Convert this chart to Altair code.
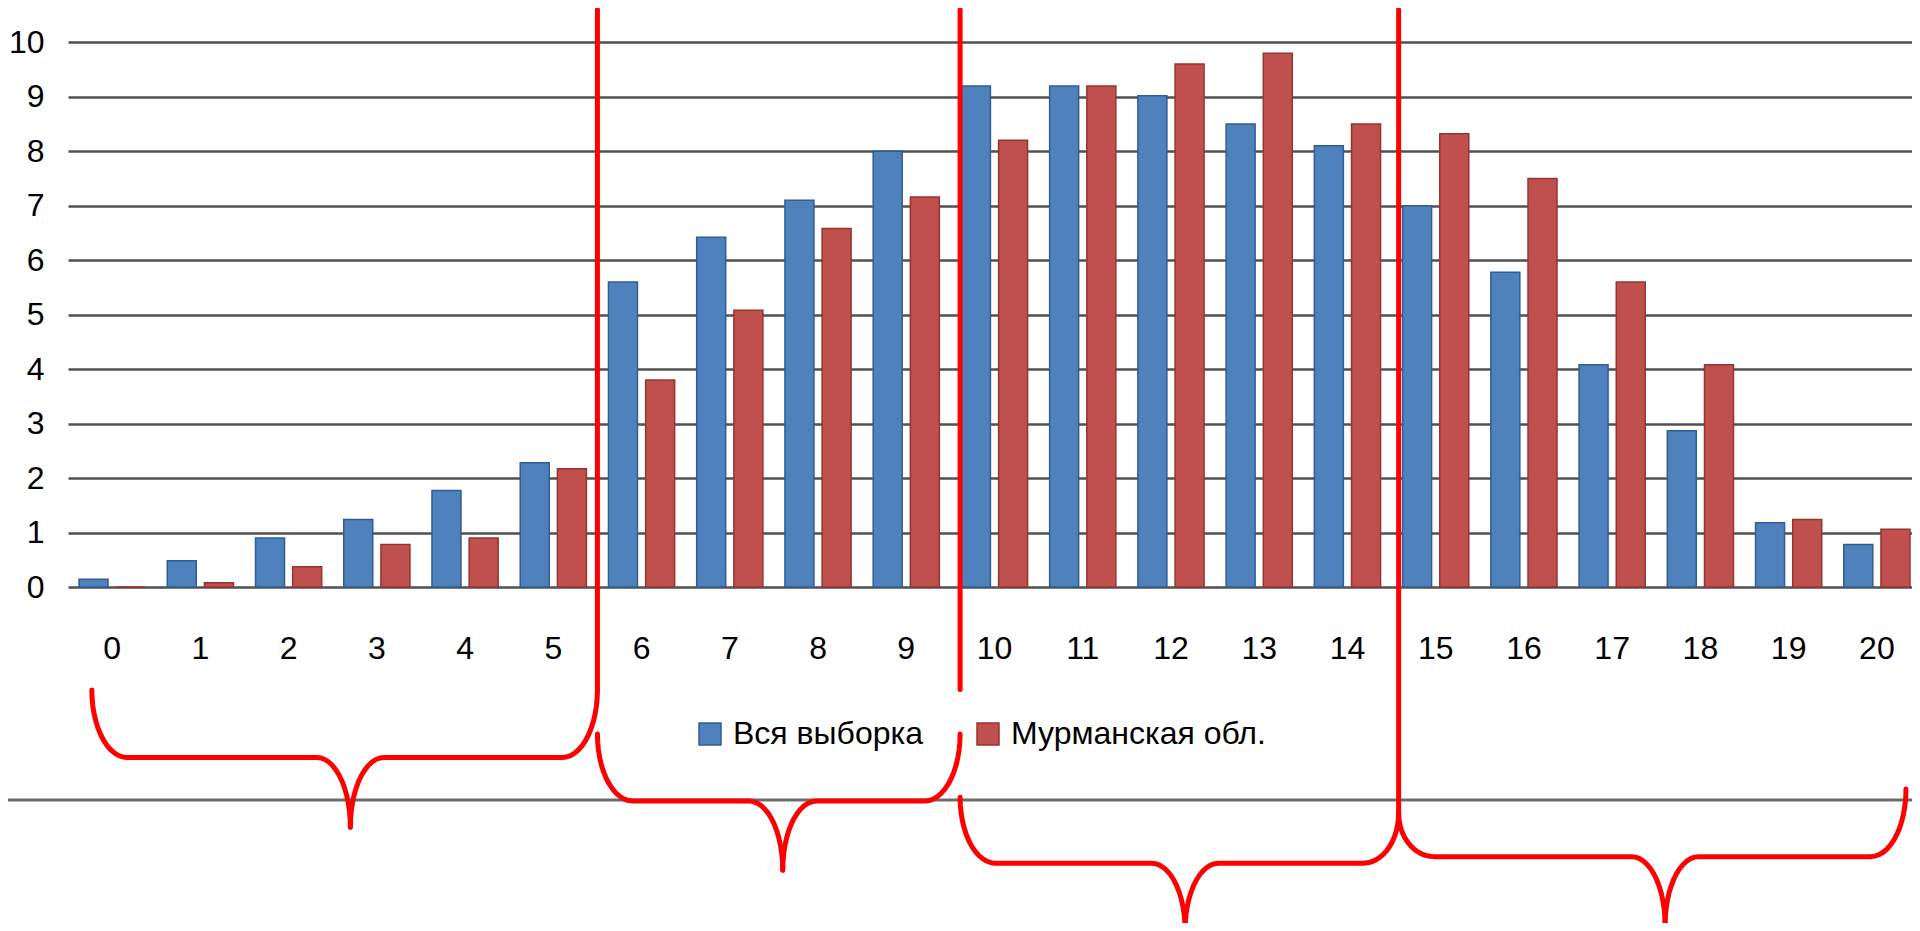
import altair as alt
import numpy as np
import pandas as pd

FONT = "Liberation Sans"
BLUE, BLUE_D = "#4F81BD", "#2F5D95"
RED, RED_D = "#C0504D", "#953532"

# ---- chart data ----
categories = [str(i) for i in range(21)]
series_names = ["Вся выборка", "Мурманская обл."]
all_sample = [0.14, 0.48, 0.9, 1.24, 1.77, 2.28, 5.6, 6.42, 7.1, 8.0, 9.2,
              9.2, 9.02, 8.5, 8.1, 7.0, 5.78, 4.08, 2.87, 1.18, 0.78]
murmansk = [0.0, 0.08, 0.37, 0.78, 0.9, 2.17, 3.8, 5.08, 6.58, 7.16, 8.2,
            9.2, 9.6, 9.8, 8.5, 8.32, 7.5, 5.6, 4.08, 1.24, 1.06]
y_ticks = list(range(0, 11))

# ---- annotation geometry, in data units (category index, value) ----
divider_x = [5.5, 9.61, 14.58]
divider_bottom = [-1.89, -1.88, -4.15]
divider_top = 10.6
brace_left = [-0.23, 5.5, 9.61, 14.58]
brace_right = [5.5, 9.61, 14.58, 20.33]
brace_tip_x = [2.7, 7.6, 12.16, 17.6]
brace_left_top = [-1.89, -2.70, -3.86, -4.15]
brace_right_top = [-1.89, -2.70, -4.15, -3.71]
brace_bar_y = [-3.13, -3.93, -5.07, -4.95]
brace_tip_y = [-4.41, -5.20, -6.30, -6.21]
arm_round = 0.40
tip_round = 0.38
sep_y = -3.91
sep_x = [-1.18, 20.45]

bars_df = pd.DataFrame({
    "cat": categories * 2,
    "series": [series_names[0]] * len(categories) + [series_names[1]] * len(categories),
    "value": all_sample + murmansk,
})

rows = []
def add_path(pid, pts):
    for k, (x, y) in enumerate(pts):
        rows.append({"pid": pid, "k": k, "x": float(x), "y": float(y)})

for i in range(len(divider_x)):
    add_path(f"d{i}", [(divider_x[i], divider_top), (divider_x[i], divider_bottom[i])])

t = np.linspace(0, np.pi / 2, 14)

def brace_half(x_end, y_end, xc, yh, yt, sgn):
    # sgn = +1 for left half (arm left of tip), -1 for right half
    pts = []
    cx, cy = x_end + sgn * arm_round, y_end
    ry = y_end - yh
    for a in t:
        pts.append((cx - sgn * arm_round * np.cos(a), cy - ry * np.sin(a)))
    cx2, cy2 = xc - sgn * tip_round, yt
    ry2 = yh - yt
    for a in t:
        pts.append((cx2 + sgn * tip_round * np.sin(a), cy2 + ry2 * np.cos(a)))
    return pts

for b in range(4):
    add_path(f"b{b}L", brace_half(brace_left[b], brace_left_top[b], brace_tip_x[b],
                                  brace_bar_y[b], brace_tip_y[b], 1))
    add_path(f"b{b}R", brace_half(brace_right[b], brace_right_top[b], brace_tip_x[b],
                                  brace_bar_y[b], brace_tip_y[b], -1))
annot_df = pd.DataFrame(rows)
sep_df = pd.DataFrame({"x0": [sep_x[0]], "x1": [sep_x[1]], "y": [sep_y]})

X_RANGE = 1853
y_scale = alt.Scale(domain=[0, 10.593], nice=False, zero=False)
qx_scale = alt.Scale(domain=[-0.5, 20.5], range=[0, X_RANGE], nice=False, zero=False)

bars = alt.Chart(bars_df).mark_bar(strokeWidth=1.5).encode(
    x=alt.X("cat:N", sort=categories,
            scale=alt.Scale(range=[0, X_RANGE], paddingInner=0.25, paddingOuter=0.125),
            axis=alt.Axis(title=None, labelAngle=0, ticks=False, domain=False, grid=False,
                          labelPadding=46, labelFontSize=32, labelFont=FONT,
                          labelColor="#000000")),
    xOffset=alt.XOffset("series:N", sort=series_names, scale=alt.Scale(paddingInner=0.22)),
    y=alt.Y("value:Q", scale=y_scale,
            axis=alt.Axis(values=y_ticks, title=None, ticks=False, domain=False, grid=True,
                          gridColor="#505050", gridWidth=2.7, labelPadding=24,
                          labelFontSize=32, labelFont=FONT, labelColor="#000000")),
    color=alt.Color("series:N", sort=series_names,
                    scale=alt.Scale(domain=series_names, range=[BLUE, RED]),
                    legend=alt.Legend(title=None, orient="none", legendX=626, legendY=708,
                                      direction="horizontal", symbolType="square",
                                      symbolSize=484, symbolStrokeWidth=1.5,
                                      labelFontSize=32, labelFont=FONT, labelColor="#000000",
                                      labelLimit=500, labelOffset=7, columnPadding=49,
                                      padding=0)),
    stroke=alt.Stroke("series:N", sort=series_names,
                      scale=alt.Scale(domain=series_names, range=[BLUE_D, RED_D])),
)

sep = alt.Chart(sep_df).mark_rule(color="#6d6d6d", strokeWidth=3).encode(
    x=alt.X("x0:Q", scale=qx_scale, axis=None),
    x2="x1:Q",
    y=alt.Y("y:Q", scale=y_scale, axis=None),
)

annot = alt.Chart(annot_df).mark_line(color="#FF0000", strokeWidth=5,
                                      strokeCap="round", strokeJoin="round").encode(
    x=alt.X("x:Q", scale=qx_scale, axis=None),
    y=alt.Y("y:Q", scale=y_scale, axis=None),
    detail="pid:N",
    order="k:Q",
)

chart = alt.layer(bars, sep, annot).resolve_scale(x="independent").resolve_axis(
    y="independent"
).properties(
    width=1844, height=577,
    padding={"left": 60, "top": 2, "right": 0, "bottom": 336},
    autosize=alt.AutoSizeParams(type="none"),
).configure_view(stroke=None)

chart.save("out.html", embed_options={"renderer": "svg", "actions": False})
